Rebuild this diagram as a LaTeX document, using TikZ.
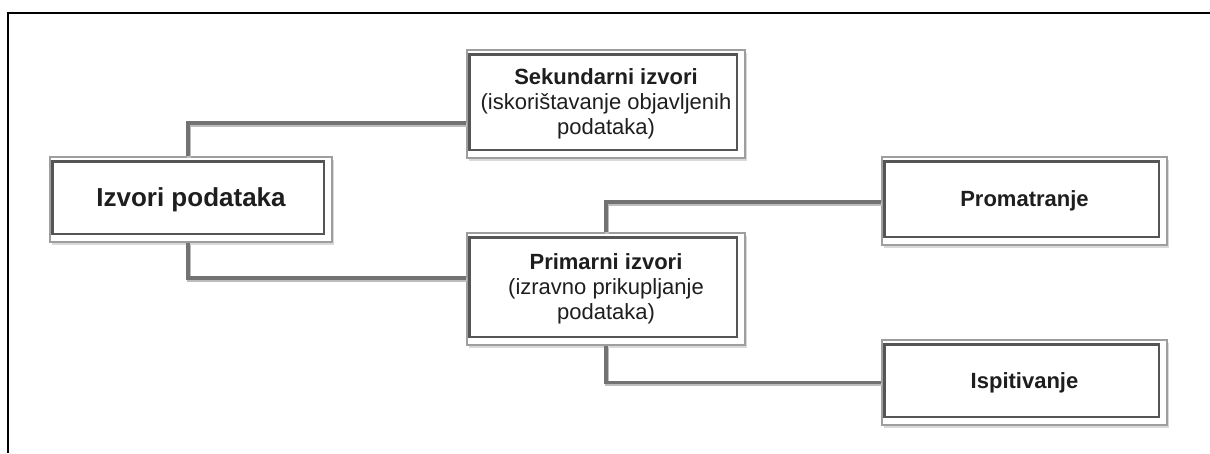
\documentclass[tikz,border=0pt]{standalone}
\usepackage{fontspec}
\setmainfont{Liberation Sans}
\usepackage{tikz}
\usetikzlibrary{calc,shadows}
\definecolor{ink}{HTML}{1E1E1E}
\definecolor{rim}{HTML}{9E9E9E}
\definecolor{edge}{HTML}{555555}
\definecolor{wire}{HTML}{727272}
\definecolor{wireshade}{HTML}{BDBDBD}
\tikzset{
  srcbox/.style={draw=rim, line width=1.4pt, fill=white, text=ink,
    align=center, inner sep=0pt,
    drop shadow={shadow xshift=1.5pt, shadow yshift=-2.5pt, opacity=0.3}},
  innerline/.style={draw=edge, line width=2.4pt},
  wireline/.style={draw=wire, line width=3.4pt,
    preaction={draw=wireshade, line width=3.4pt, transform canvas={shift={(1pt,-2pt)}}}},
  frameline/.style={draw=black, line width=2pt},
  bigtxt/.style={font=\fontsize{26}{30}\selectfont\bfseries},
  midtxt/.style={font=\fontsize{22}{25}\selectfont},
  boldtxt/.style={font=\fontsize{22}{25}\selectfont\bfseries},
}

\begin{document}
\begin{tikzpicture}[x=1pt,y=-1pt]
  \useasboundingbox (0,0) rectangle (1210,453);
  % page frame, only left and top are visible
  \draw[frameline] (8,453) -- (8,13) -- (1210,13);

  % boxes
  \node[srcbox, bigtxt, minimum width=282pt, minimum height=85pt] (izv) at (191,199.5) {Izvori podataka};
  \node[srcbox, midtxt, minimum width=278pt, minimum height=108pt] (sek) at (606,104)
    {\textbf{Sekundarni izvori}\\(iskorištavanje objavljenih\\podataka)};
  \node[srcbox, midtxt, minimum width=278pt, minimum height=112pt] (pri) at (606,289)
    {\textbf{Primarni izvori}\\(izravno prikupljanje\\podataka)};
  \node[srcbox, boldtxt, minimum width=285pt, minimum height=88pt] (pro) at (1024.5,201) {Promatranje};
  \node[srcbox, boldtxt, minimum width=285pt, minimum height=85pt] (isp) at (1024.5,382.5) {Ispitivanje};

  % inner dark border of every box
  \foreach \n in {izv,sek,pri,pro,isp}
    \draw[innerline] ([xshift=3pt,yshift=-5pt]\n.north west) rectangle ([xshift=-9pt,yshift=9pt]\n.south east);

  % connectors
  \coordinate (izvup) at ([xshift=-3pt]izv.north);
  \coordinate (izvdn) at ([xshift=-3pt]izv.south);
  \draw[wireline] (izvup) |- ([yshift=-19pt]sek.west);
  \draw[wireline] (izvdn) |- ([yshift=11pt]pri.west);
  \draw[wireline] (pri.north) |- ([yshift=-1pt]pro.west);
  \draw[wireline] (pri.south) |- (isp.west);
\end{tikzpicture}
\end{document}
